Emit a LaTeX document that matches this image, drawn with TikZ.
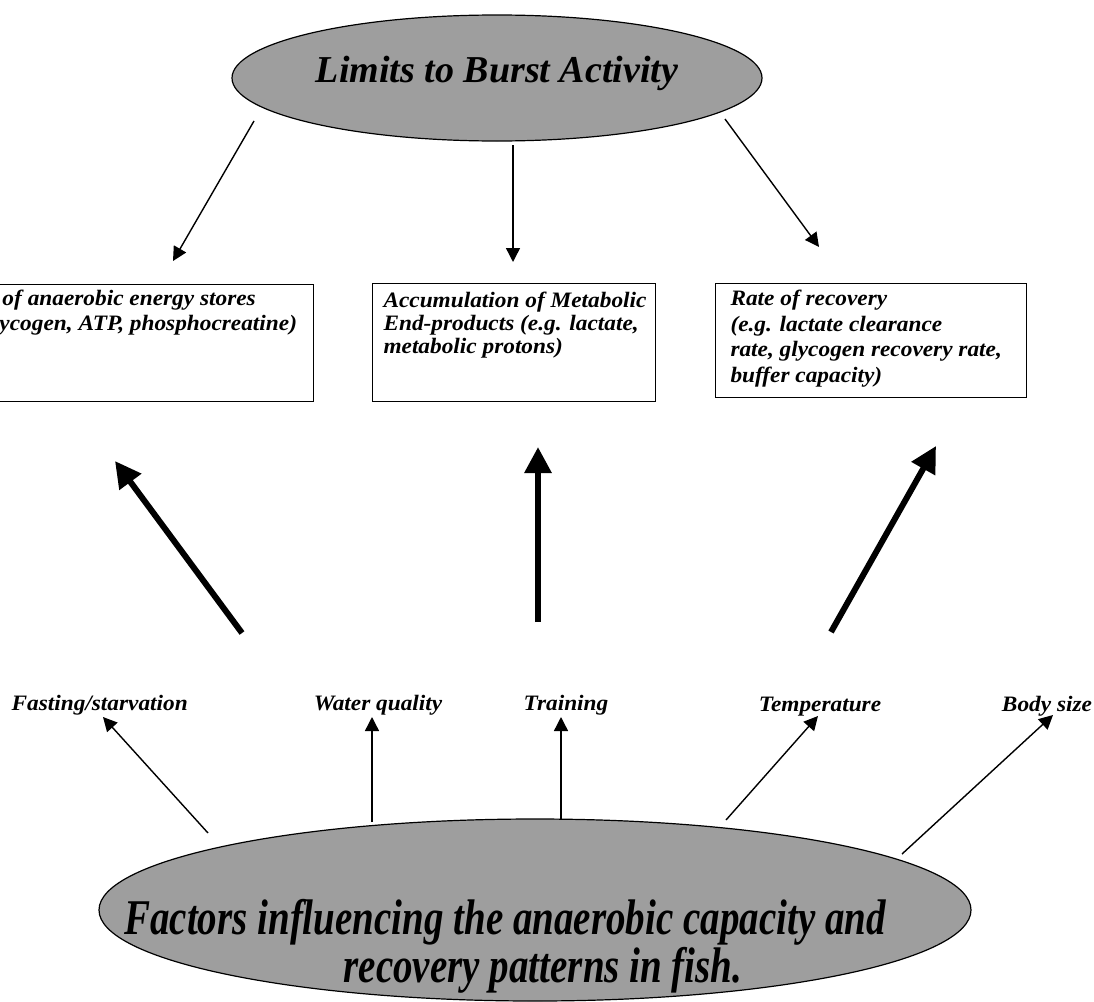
\documentclass[tikz,border=0pt]{standalone}
\usepackage{fontspec}
\setmainfont{Liberation Serif}
\newfontfamily\boxfont{Liberation Serif}[FakeStretch=1.06]
\newfontfamily\bottomfont{Liberation Serif}[FakeStretch=0.78]
\usetikzlibrary{arrows.meta,shapes.geometric}
\tikzset{
  ellst/.style={ellipse, draw=black, line width=1.2pt, fill=black!38, inner sep=0pt},
  boxst/.style={draw=black, line width=1pt, inner xsep=0pt, inner ysep=0pt, anchor=north west},
  thinarrow/.style={line width=1.4pt, -{Triangle[length=14pt,width=14pt]}},
  thickarrow/.style={line width=6pt, -{Triangle[length=26pt,width=26pt]}},
  lab/.style={font=\boxfont\bfseries\itshape\fontsize{22}{24}\selectfont, inner sep=0pt}
}
\begin{document}
\begin{tikzpicture}[x=1pt,y=-1pt]
\useasboundingbox (0,0) rectangle (1094,1001);
\clip (0,0) rectangle (1094,1001);

% top ellipse
\node[ellst, minimum width=530pt, minimum height=126pt,
      font=\bfseries\itshape\fontsize{38}{40}\selectfont,
      text height=18pt, text depth=10pt] (top) at (497,78) {Limits to Burst Activity};

% boxes
\node[boxst, font=\boxfont\bfseries\itshape\fontsize{22}{25}\selectfont] (leftbox) at (-10,284)
  {\parbox[t][117pt][t]{323pt}{\raggedright\leftskip=12pt\rule{0pt}{21pt}of anaerobic energy stores\\\hspace*{-3pt}ycogen, ATP, phosphocreatine)}};
\node[boxst, font=\boxfont\bfseries\itshape\fontsize{22}{22.8}\selectfont] (midbox) at (372,283)
  {\parbox[t][118pt][t]{283pt}{\raggedright\leftskip=11pt\rule{0pt}{24pt}Accumulation of Metabolic\\End-products (e.g. lactate,\\metabolic protons)}};
\node[boxst, font=\boxfont\bfseries\itshape\fontsize{22}{25.7}\selectfont] (rightbox) at (715,283)
  {\parbox[t][114pt][t]{311pt}{\raggedright\leftskip=15pt\rule{0pt}{22pt}Rate of recovery\\(e.g. lactate clearance\\rate, glycogen recovery rate,\\buffer capacity)}};

% bottom ellipse (text held in a zero-size box so the ellipse keeps its own size)
\node[ellst, minimum width=872pt, minimum height=182pt,
      font=\bottomfont\bfseries\itshape\fontsize{50}{48}\selectfont] (bot) at (535,910)
  {\makebox[0pt][c]{\raisebox{-72pt}[0pt][0pt]{\parbox[b]{950pt}{\centering\lineskiplimit=-200pt\baselineskip=48pt
   Factors influencing the anaerobic capacity and\kern60pt\\\hspace*{16pt}recovery patterns in fish.}}}};

% factor labels
\node[lab, anchor=base east] (fast) at (188,710) {Fasting/starvation};
\node[lab, anchor=base] (water) at (378,710) {Water quality};
\node[lab, anchor=base] (train) at (566,710) {Training};
\node[lab, anchor=base] (temp) at (820,711) {Temperature};
\node[lab, anchor=base] (body) at (1047,711) {Body size};

% coordinates of arrow ends
\coordinate (t1s) at (254,121); \coordinate (t1e) at (173,261);
\coordinate (t2s) at (513,145); \coordinate (t2e) at (513,262);
\coordinate (t3s) at (725,119); \coordinate (t3e) at (819,247);
\coordinate (k1s) at (242,633); \coordinate (k1e) at (115,461);
\coordinate (k2s) at (538,622); \coordinate (k2e) at (538,447);
\coordinate (k3s) at (831,632); \coordinate (k3e) at (936,446);
\coordinate (f1s) at (208,833); \coordinate (f1e) at (103,717);
\coordinate (f2s) at (372,822); \coordinate (f2e) at (372,717);
\coordinate (f3s) at (561,819); \coordinate (f3e) at (561,717);
\coordinate (f4s) at (726,820); \coordinate (f4e) at (818,716);
\coordinate (f5s) at (902,854); \coordinate (f5e) at (1053,715);

\draw[thinarrow] (t1s) -- (t1e);
\draw[thinarrow] (t2s) -- (t2e);
\draw[thinarrow] (t3s) -- (t3e);
\draw[thickarrow] (k1s) -- (k1e);
\draw[thickarrow] (k2s) -- (k2e);
\draw[thickarrow] (k3s) -- (k3e);
\draw[thinarrow] (f1s) -- (f1e);
\draw[thinarrow] (f2s) -- (f2e);
\draw[thinarrow] (f3s) -- (f3e);
\draw[thinarrow] (f4s) -- (f4e);
\draw[thinarrow] (f5s) -- (f5e);
\end{tikzpicture}
\end{document}
